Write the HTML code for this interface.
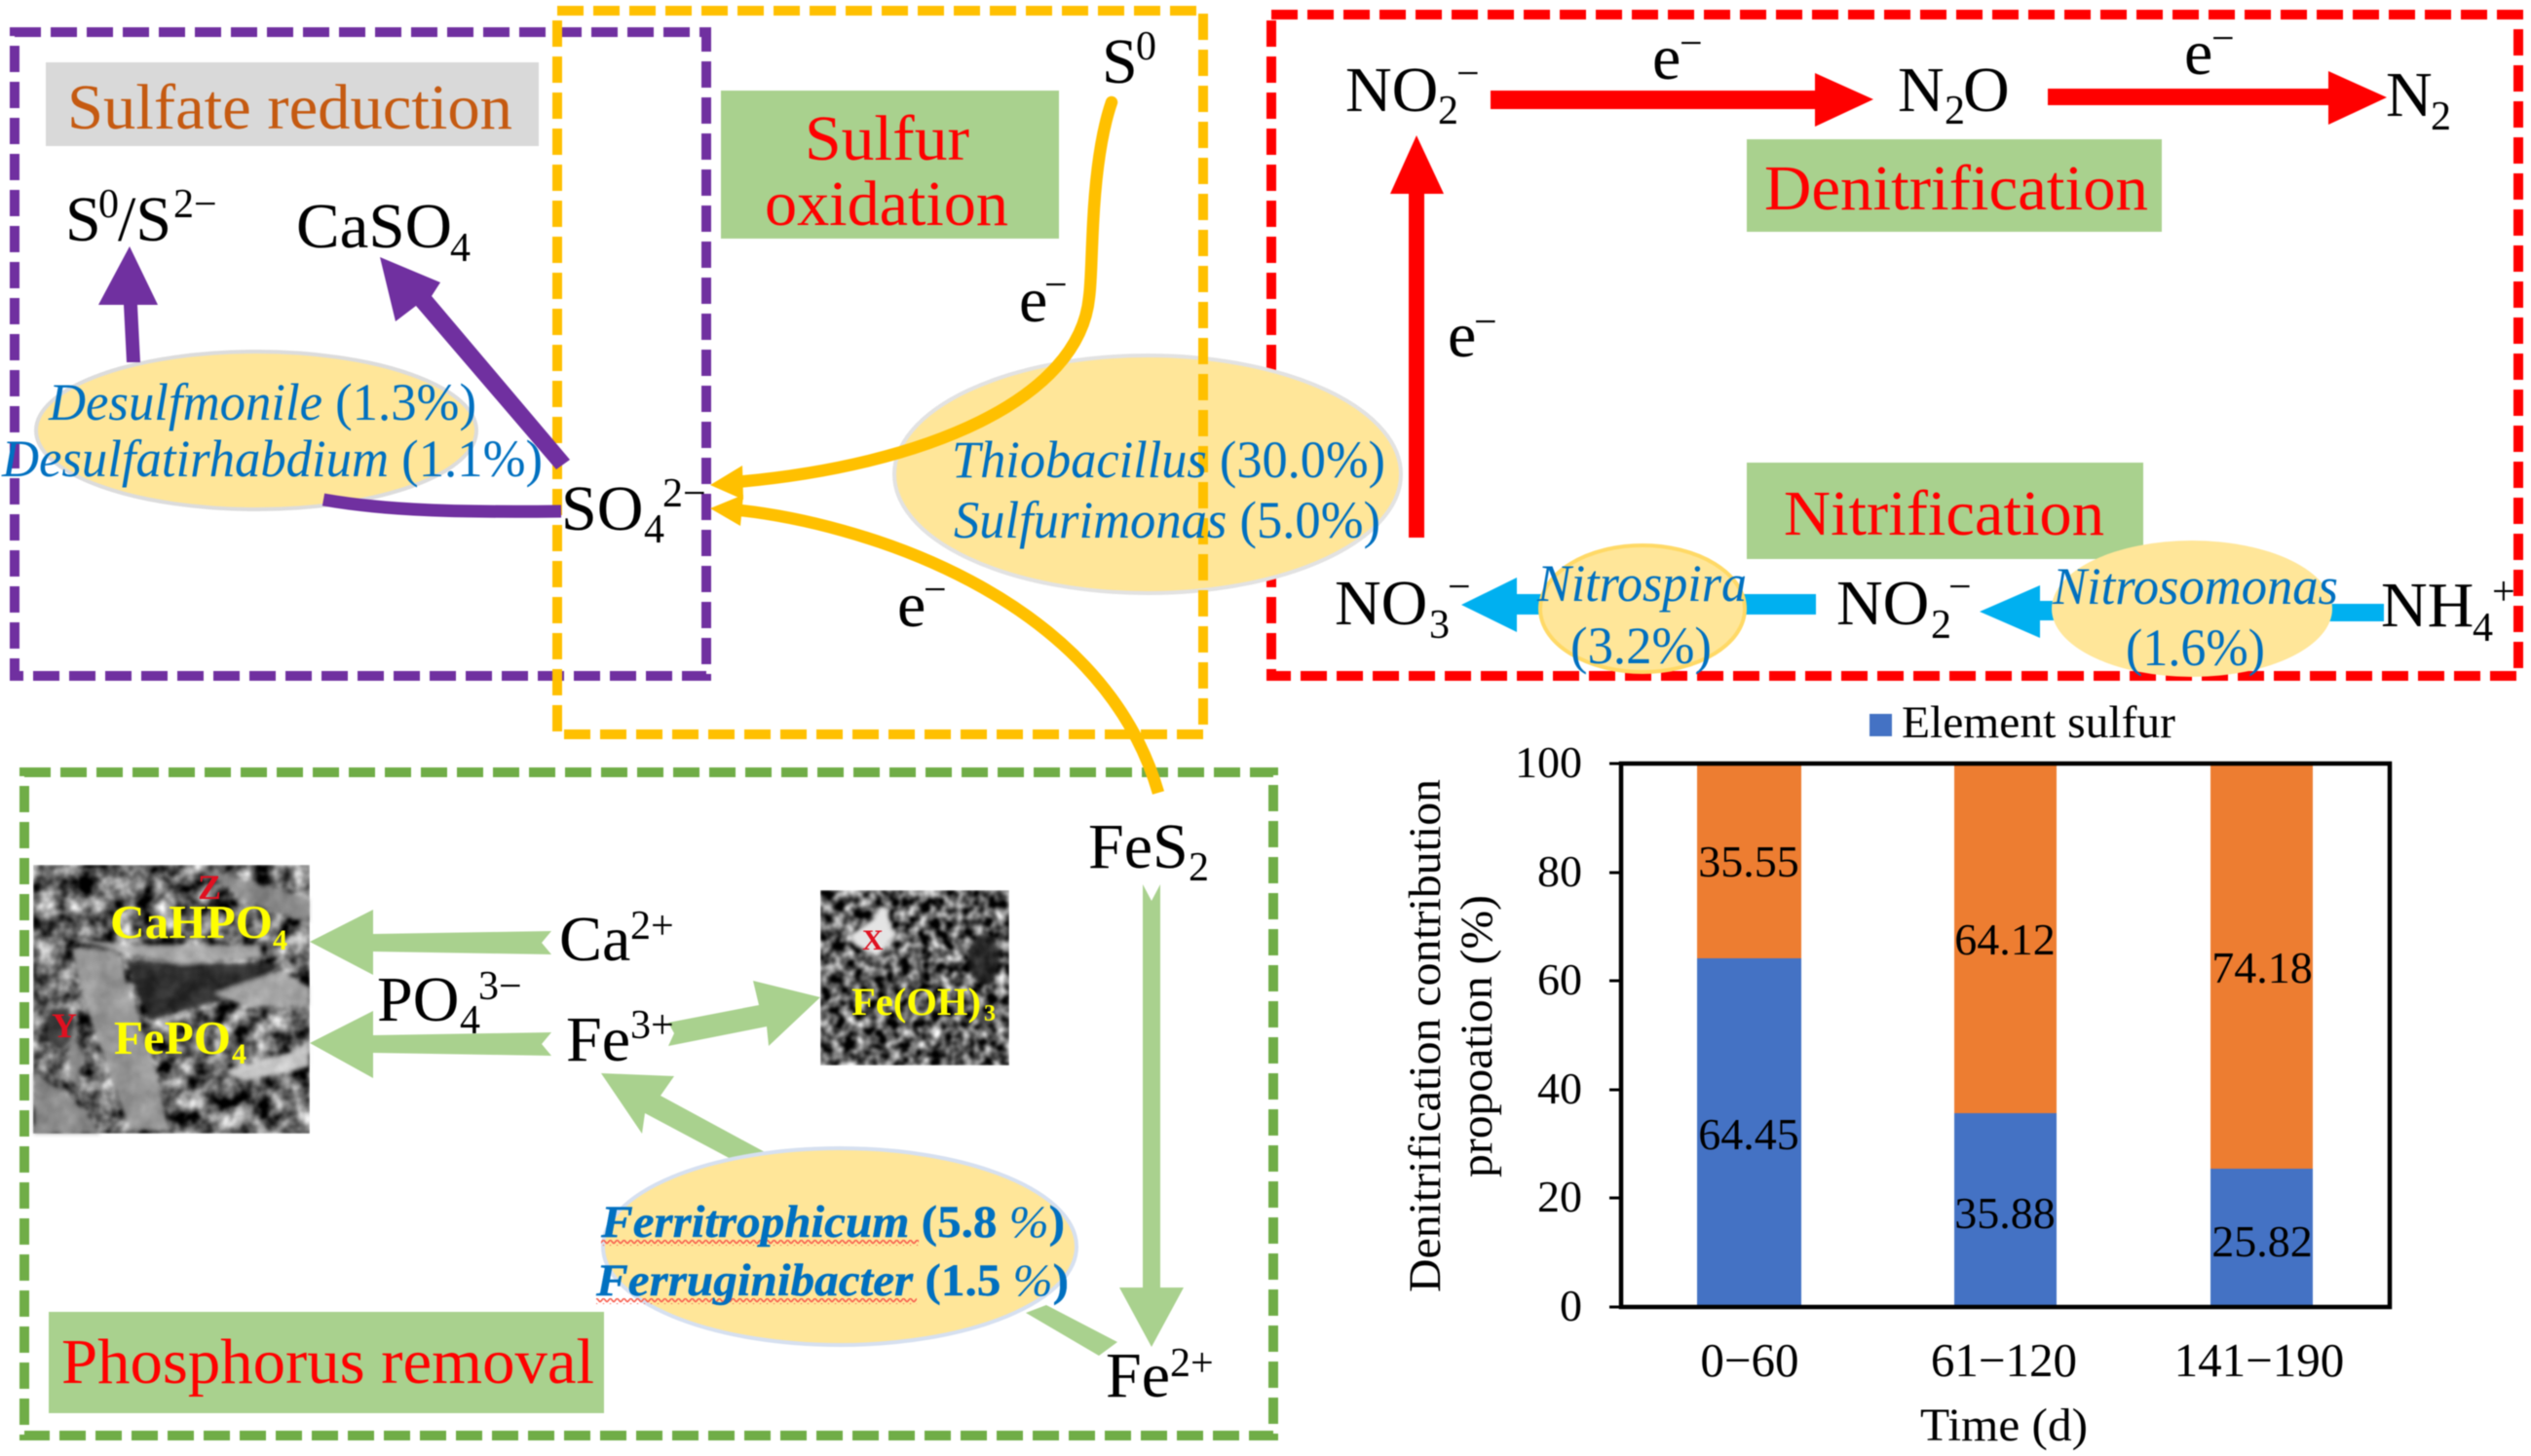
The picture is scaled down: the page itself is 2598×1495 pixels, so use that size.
<!DOCTYPE html>
<html><head><meta charset="utf-8">
<style>
html,body{margin:0;padding:0;background:#fff}
svg{display:block;filter:blur(.6px)}
text{font-family:"Liberation Serif",serif;fill:#000;font-size:66px}
.s{font-size:42px}
.r{fill:#f00}
.b{fill:#0070C0;font-size:54px}
.i{font-style:italic}
.v{font-size:46px;text-anchor:middle}
.t{font-size:46px;text-anchor:end}
.x{font-size:49px;text-anchor:middle}
.f{fill:#0070C0;font-size:47px;font-weight:bold;stroke:#0070C0;stroke-width:.4}
.y{fill:#ff0;font-weight:bold}
.z{fill:#e01020;font-weight:bold;font-size:36px}
</style></head><body>
<svg width="2598" height="1495" viewBox="0 0 2598 1495" xmlns="http://www.w3.org/2000/svg">
<defs>
<filter id="n1" x="0" y="0" width="100%" height="100%" color-interpolation-filters="sRGB">
<feTurbulence type="fractalNoise" baseFrequency="0.05" numOctaves="3" seed="4"/>
<feColorMatrix values="1.7 0 0 0 -0.45 1.7 0 0 0 -0.45 1.7 0 0 0 -0.45 0 0 0 0 1"/>
<feGaussianBlur stdDeviation="1"/>
</filter>
<filter id="n2" x="0" y="0" width="100%" height="100%" color-interpolation-filters="sRGB">
<feTurbulence type="fractalNoise" baseFrequency="0.09" numOctaves="2" seed="9"/>
<feColorMatrix values="1.8 0 0 0 -0.55 1.8 0 0 0 -0.55 1.8 0 0 0 -0.55 0 0 0 0 1"/>
<feGaussianBlur stdDeviation="1"/>
</filter>
<filter id="bl"><feGaussianBlur stdDeviation="2"/></filter>
<pattern id="sq" width="7" height="6" patternUnits="userSpaceOnUse">
<path d="M0 5 L3.5 1 L7 5" fill="none" stroke="#f86050" stroke-width="1.6"/>
</pattern>
</defs>
<rect width="2598" height="1495" fill="#fff"/>

<!-- Boxes -->
<rect x="1305" y="15" width="1280" height="679" fill="none" stroke="#f00" stroke-width="10" stroke-dasharray="27 10"/>
<rect x="15" y="33" width="710" height="661" fill="none" stroke="#7030A0" stroke-width="10" stroke-dasharray="27 10"/>
<rect x="25" y="793" width="1282" height="681" fill="none" stroke="#70AD47" stroke-width="10" stroke-dasharray="27 10"/>

<!-- Ellipses -->
<ellipse cx="263" cy="442" rx="226" ry="81" fill="#FFE699" stroke="#dcdcdc" stroke-width="4"/>
<ellipse cx="1178" cy="487" rx="260" ry="122" fill="#FFE699" stroke="#e2e2e2" stroke-width="4"/>
<rect x="572" y="11" width="663" height="743" fill="none" stroke="#FFC000" stroke-width="10" stroke-dasharray="27 10"/>

<!-- Label boxes -->
<rect x="47" y="64" width="506" height="86" fill="#d9d9d9"/>
<rect x="740" y="93" width="347" height="152" fill="#A9D18E"/>
<rect x="1793" y="143" width="426" height="95" fill="#A9D18E"/>
<rect x="1793" y="475" width="407" height="99" fill="#A9D18E"/>
<rect x="50" y="1347" width="570" height="104" fill="#A9D18E"/>

<text x="69" y="132" style="fill:#C55A11" textLength="457" lengthAdjust="spacingAndGlyphs">Sulfate reduction</text>
<text x="826" y="164" class="r" textLength="169" lengthAdjust="spacingAndGlyphs">Sulfur</text>
<text x="785" y="231" class="r" textLength="250" lengthAdjust="spacingAndGlyphs">oxidation</text>
<text x="1811" y="215" class="r" textLength="394" lengthAdjust="spacingAndGlyphs">Denitrification</text>
<text x="1831" y="549" class="r" textLength="329" lengthAdjust="spacingAndGlyphs">Nitrification</text>
<text x="63" y="1420" class="r" textLength="547" lengthAdjust="spacingAndGlyphs">Phosphorus removal</text>

<!-- Purple arrows -->
<g fill="#7030A0" stroke="none">
<polygon points="130,372 144,372 141,313 162,313 133,253 101,313 127,313"/>
<polygon points="571,482 585,472 443,304 452,290 390,264 406,330 427,314"/>
</g>
<path d="M576 525 C480 526 400 525 332 513" fill="none" stroke="#7030A0" stroke-width="13"/>

<!-- Yellow curves -->
<g fill="none" stroke="#FFC000" stroke-width="12.5">
<path d="M1141 105 C1129 140 1124 190 1122 230 C1120 270 1120 290 1118 305 C1108 410 950 478 755 495" stroke-linecap="round"/>
<path d="M750 523 C880 535 1130 610 1189 814"/>
</g>
<g fill="#FFC000">
<polygon points="729,498 762,478 763,513"/>
<polygon points="729,522 763,508 760,540"/>
</g>

<!-- Red arrows -->
<g fill="#f00">
<polygon points="1530,93 1863,93 1863,75 1923,102 1863,130 1863,112 1530,112"/>
<polygon points="2102,91 2390,91 2390,73 2450,100 2390,128 2390,108 2102,108"/>
<polygon points="1446,552 1446,199 1427,199 1454,139 1482,199 1462,199 1462,552"/>
</g>

<!-- Blue arrows -->
<g fill="#00B0F0">
<polygon points="1500,621 1557,593 1557,610 1864,610 1864,631 1557,631 1557,649"/>
<polygon points="2032,628 2094,601 2094,617 2140,617 2140,637 2094,637 2094,655"/>
<rect x="2380" y="620" width="67" height="18"/>
</g>
<ellipse cx="1686" cy="625" rx="105" ry="65" fill="#FFE699" stroke="#FFD966" stroke-width="4"/>
<ellipse cx="2250" cy="625" rx="144" ry="70" fill="#FFE699"/>

<!-- Sulfur labels -->
<text x="67" y="247">S</text><text x="101" y="223" class="s">0</text><text x="121" y="247">/S</text><text x="178" y="223" class="s">2−</text>
<text x="304" y="254" textLength="160" lengthAdjust="spacingAndGlyphs">CaSO</text><text x="462" y="268" class="s">4</text>
<text x="1131" y="85">S</text><text x="1166" y="61" class="s">0</text>
<text x="1046" y="330">e</text><text x="1072" y="306" class="s">−</text>
<text x="921" y="643">e</text><text x="948" y="619" class="s">−</text>
<text x="576" y="544">SO</text><text x="661" y="557" class="s">4</text><text x="680" y="520" class="s">2−</text>

<text x="50" y="431" class="b" textLength="439" lengthAdjust="spacingAndGlyphs"><tspan class="i">Desulfmonile</tspan> (1.3%)</text>
<text x="2" y="489" class="b" textLength="555" lengthAdjust="spacingAndGlyphs"><tspan class="i">Desulfatirhabdium</tspan> (1.1%)</text>
<text x="977" y="490" class="b" textLength="445" lengthAdjust="spacingAndGlyphs"><tspan class="i">Thiobacillus</tspan> (30.0%)</text>
<text x="979" y="552" class="b" textLength="438" lengthAdjust="spacingAndGlyphs"><tspan class="i">Sulfurimonas</tspan> (5.0%)</text>

<!-- Nitrogen labels -->
<text x="1381" y="114">NO</text><text x="1476" y="127" class="s">2</text><text x="1495" y="89" class="s">−</text>
<text x="1696" y="81">e</text><text x="1724" y="58" class="s">−</text>
<text x="1948" y="114">N</text><text x="1996" y="127" class="s">2</text><text x="2015" y="114">O</text>
<text x="2242" y="76">e</text><text x="2270" y="53" class="s">−</text>
<text x="2449" y="119">N</text><text x="2495" y="133" class="s">2</text>
<text x="1486" y="366">e</text><text x="1513" y="344" class="s">−</text>
<text x="1370" y="641">NO</text><text x="1467" y="655" class="s">3</text><text x="1486" y="616" class="s">−</text>
<text x="1885" y="641">NO</text><text x="1982" y="655" class="s">2</text><text x="2000" y="616" class="s">−</text>
<text x="2444" y="643">NH</text><text x="2538" y="658" class="s">4</text><text x="2558" y="621" class="s">+</text>
<text x="1578" y="617" class="b i" textLength="215" lengthAdjust="spacingAndGlyphs">Nitrospira</text>
<text x="1612" y="681" class="b" textLength="145" lengthAdjust="spacingAndGlyphs">(3.2%)</text>
<text x="2107" y="620" class="b i" textLength="293" lengthAdjust="spacingAndGlyphs">Nitrosomonas</text>
<text x="2182" y="683" class="b" textLength="143" lengthAdjust="spacingAndGlyphs">(1.6%)</text>

<!-- Green arrows -->
<g fill="#A9D18E">
<polygon points="318,967 383,934 383,959 566,956 556,968 566,980 383,977 383,1001"/>
<polygon points="318,1071 383,1038 383,1063 566,1060 556,1072 566,1084 383,1081 383,1107"/>
<polygon points="842,1024 773,1007 779,1032 686,1050 692,1061 686,1074 787,1054 789,1074"/>
<polygon points="617,1102 692,1105 678,1125 787,1184 754,1192 662,1143 659,1164"/>
<polygon points="1173,908 1182,925 1191,908 1191,1322 1215,1322 1182,1383 1149,1322 1173,1322"/>
<polygon points="1053,1348 1074,1340 1147,1378 1128,1392"/>
</g>

<!-- SEM image 1 -->
<g>
<rect x="34" y="888" width="284" height="276" filter="url(#n1)"/>
<g opacity=".85" filter="url(#bl)">
<polygon points="213,893 317,923 317,947 253,927" fill="#8c8c8c"/>
<polygon points="130,987 287,990 253,1020 153,1047" fill="#262626"/>
<polygon points="73,973 120,977 163,1113 173,1160 133,1160 93,1047" fill="#a0a0a0"/>
<polygon points="70,963 133,970 267,970 267,983 187,990 133,980" fill="#b4b4b4"/>
<polygon points="220,1020 287,997 317,1013 317,1033 253,1033" fill="#b0b0b0"/>
<polygon points="35,1100 87,1140 103,1164 35,1164" fill="#909090"/>
<polygon points="230,1100 317,1075 317,1095 250,1110" fill="#d8d8d8"/>
<polygon points="72,1060 88,1085 75,1110 70,1110" fill="#8a8a8a"/>
<ellipse cx="62" cy="1055" rx="14" ry="20" fill="#3a3a3a"/>
</g>
</g>
<text x="113" y="963" class="y" style="font-size:49px" textLength="167" lengthAdjust="spacingAndGlyphs">CaHPO</text><text x="280" y="975" class="y" style="font-size:30px">4</text>
<text x="117" y="1082" class="y" style="font-size:49px" textLength="120" lengthAdjust="spacingAndGlyphs">FePO</text><text x="238" y="1092" class="y" style="font-size:30px">4</text>
<text x="203" y="923" class="z">Z</text>
<text x="53" y="1065" class="z">Y</text>

<!-- SEM image 2 -->
<rect x="842" y="914" width="194" height="180" filter="url(#n2)"/>
<polygon points="873,960 897,943 903,930 912,933 913,950 920,960 900,983 877,970" fill="#e4e4e4" filter="url(#bl)"/>
<ellipse cx="1010" cy="985" rx="16" ry="26" fill="#1c1c1c" opacity=".8" filter="url(#bl)"/>
<text x="874" y="1042" class="y" style="font-size:40px" textLength="133" lengthAdjust="spacingAndGlyphs">Fe(OH)</text><text x="1010" y="1048" class="y" style="font-size:24px">3</text>
<text x="885" y="975" class="z" style="font-size:30px">X</text>

<!-- Phosphorus labels -->
<text x="1117" y="891">FeS</text><text x="1220" y="904" class="s">2</text>
<text x="574" y="986">Ca</text><text x="647" y="964" class="s">2+</text>
<text x="581" y="1089">Fe</text><text x="647" y="1066" class="s">3+</text>
<text x="1135" y="1434">Fe</text><text x="1201" y="1413" class="s">2+</text>
<text x="387" y="1048">PO</text><text x="472" y="1061" class="s">4</text><text x="491" y="1026" class="s">3−</text>

<ellipse cx="862" cy="1280" rx="243" ry="101" fill="#FFE699" stroke="#d6e0f0" stroke-width="4"/>
<rect x="617" y="1273" width="326" height="6" fill="url(#sq)"/>
<rect x="612" y="1333" width="329" height="6" fill="url(#sq)"/>
<text x="617" y="1270" class="f" textLength="476" lengthAdjust="spacingAndGlyphs"><tspan class="i">Ferritrophicum</tspan> (5.8<tspan class="i" style="font-weight:normal;stroke:none"> %</tspan>)</text>
<text x="612" y="1330" class="f" textLength="485" lengthAdjust="spacingAndGlyphs"><tspan class="i">Ferruginibacter</tspan> (1.5<tspan class="i" style="font-weight:normal;stroke:none"> %</tspan>)</text>

<!-- Chart -->
<rect x="1919" y="733" width="23" height="23" fill="#4472C4"/>
<text x="1952" y="757" style="font-size:47px" textLength="281" lengthAdjust="spacingAndGlyphs">Element sulfur</text>
<g>
<rect x="1742" y="784" width="107" height="200" fill="#ED7D31"/>
<rect x="1742" y="984" width="107" height="358" fill="#4472C4"/>
<rect x="2006" y="784" width="105" height="359" fill="#ED7D31"/>
<rect x="2006" y="1143" width="105" height="199" fill="#4472C4"/>
<rect x="2269" y="784" width="105" height="416" fill="#ED7D31"/>
<rect x="2269" y="1200" width="105" height="142" fill="#4472C4"/>
</g>
<rect x="1664" y="784" width="789" height="558" fill="none" stroke="#000" stroke-width="4.5"/>
<g stroke="#000" stroke-width="3">
<line x1="1652" y1="784" x2="1664" y2="784"/>
<line x1="1652" y1="896" x2="1664" y2="896"/>
<line x1="1652" y1="1007" x2="1664" y2="1007"/>
<line x1="1652" y1="1119" x2="1664" y2="1119"/>
<line x1="1652" y1="1230" x2="1664" y2="1230"/>
<line x1="1652" y1="1342" x2="1664" y2="1342"/>
</g>
<text x="1624" y="798" class="t">100</text>
<text x="1624" y="910" class="t">80</text>
<text x="1624" y="1021" class="t">60</text>
<text x="1624" y="1133" class="t">40</text>
<text x="1624" y="1244" class="t">20</text>
<text x="1624" y="1356" class="t">0</text>
<text x="1795" y="900" class="v">35.55</text>
<text x="1795" y="1180" class="v">64.45</text>
<text x="2058" y="980" class="v">64.12</text>
<text x="2058" y="1261" class="v">35.88</text>
<text x="2322" y="1009" class="v">74.18</text>
<text x="2322" y="1290" class="v">25.82</text>
<text x="1796" y="1413" class="x">0−60</text>
<text x="2057" y="1413" class="x">61−120</text>
<text x="2319" y="1413" class="x">141−190</text>
<text x="1971" y="1479" style="font-size:48px" textLength="172" lengthAdjust="spacingAndGlyphs">Time (d)</text>
<text transform="translate(1478 1327) rotate(-90)" style="font-size:47px" textLength="527" lengthAdjust="spacingAndGlyphs">Denitrification contribution</text>
<text transform="translate(1531 1209) rotate(-90)" style="font-size:47px" textLength="290" lengthAdjust="spacingAndGlyphs">propoation (%)</text>
</svg>
</body></html>
